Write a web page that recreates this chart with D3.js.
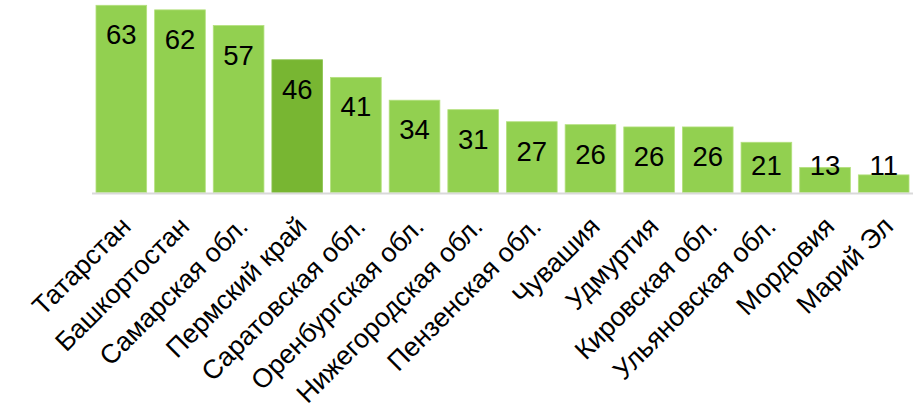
<!DOCTYPE html>
<html><head><meta charset="utf-8">
<script src="https://cdn.jsdelivr.net/npm/d3@7"></script>
<style>
html,body{margin:0;padding:0;background:#fff;}
svg{display:block;font-family:"Liberation Sans",Arial,sans-serif;}
</style></head>
<body>
<svg id="chart" width="920" height="408"></svg>
<script>
const categories = ["Татарстан","Башкортостан","Самарская обл.","Пермский край","Саратовская обл.","Оренбургская обл.","Нижегородская обл.","Пензенская обл.","Чувашия","Удмуртия","Кировская обл.","Ульяновская обл.","Мордовия","Марий Эл"];
const values = [63, 61.6, 56.8, 46.3, 40.9, 33.9, 31.0, 27.3, 26.4, 25.7, 25.7, 21.0, 13.3, 11.0];
const labels = ["63","62","57","46","41","34","31","27","26","26","26","21","13","11"];
const highlight = "Пермский край";

const svg = d3.select("#chart");
const baseY = 192.5;
const x = d3.scaleBand().domain(categories).range([92, 913]).paddingInner(0.136).paddingOuter(0.068);
const y = d3.scaleLinear().domain([5.6, 63]).range([baseY, 5.3]);

const data = categories.map((c,i)=>({c, v: values[i], l: labels[i]}));

svg.append("g").selectAll("rect").data(data).join("rect")
  .attr("x", d=>x(d.c))
  .attr("y", d=>y(d.v))
  .attr("width", x.bandwidth())
  .attr("height", d=>baseY - y(d.v))
  .attr("fill", d=>d.c===highlight ? "#78b632" : "#92d050")
  .attr("stroke", d=>d.c===highlight ? "#8cc450" : "#b4e07e")
  .attr("stroke-width", 0.8);

// axis line
svg.append("line").attr("x1",92).attr("x2",913).attr("y1",baseY+1).attr("y2",baseY+1)
  .attr("stroke","#d9d9d9").attr("stroke-width",2);

// value labels
svg.append("g").selectAll("text").data(data).join("text")
  .attr("x", d=>x(d.c)+x.bandwidth()/2)
  .attr("y", d=>Math.min(y(d.v)+39, 175))
  .attr("text-anchor","middle")
  .attr("font-size", 27.5)
  .attr("fill","#000")
  .text(d=>d.l);

// category labels
svg.append("g").selectAll("text").data(data).join("text")
  .attr("transform", d=>`translate(${x(d.c)+x.bandwidth()/2+11},${228}) rotate(-45)`)
  .attr("text-anchor","end")
  .attr("font-size", 26.7)
  .attr("fill","#000")
  .text(d=>d.c);
</script>
</body></html>
